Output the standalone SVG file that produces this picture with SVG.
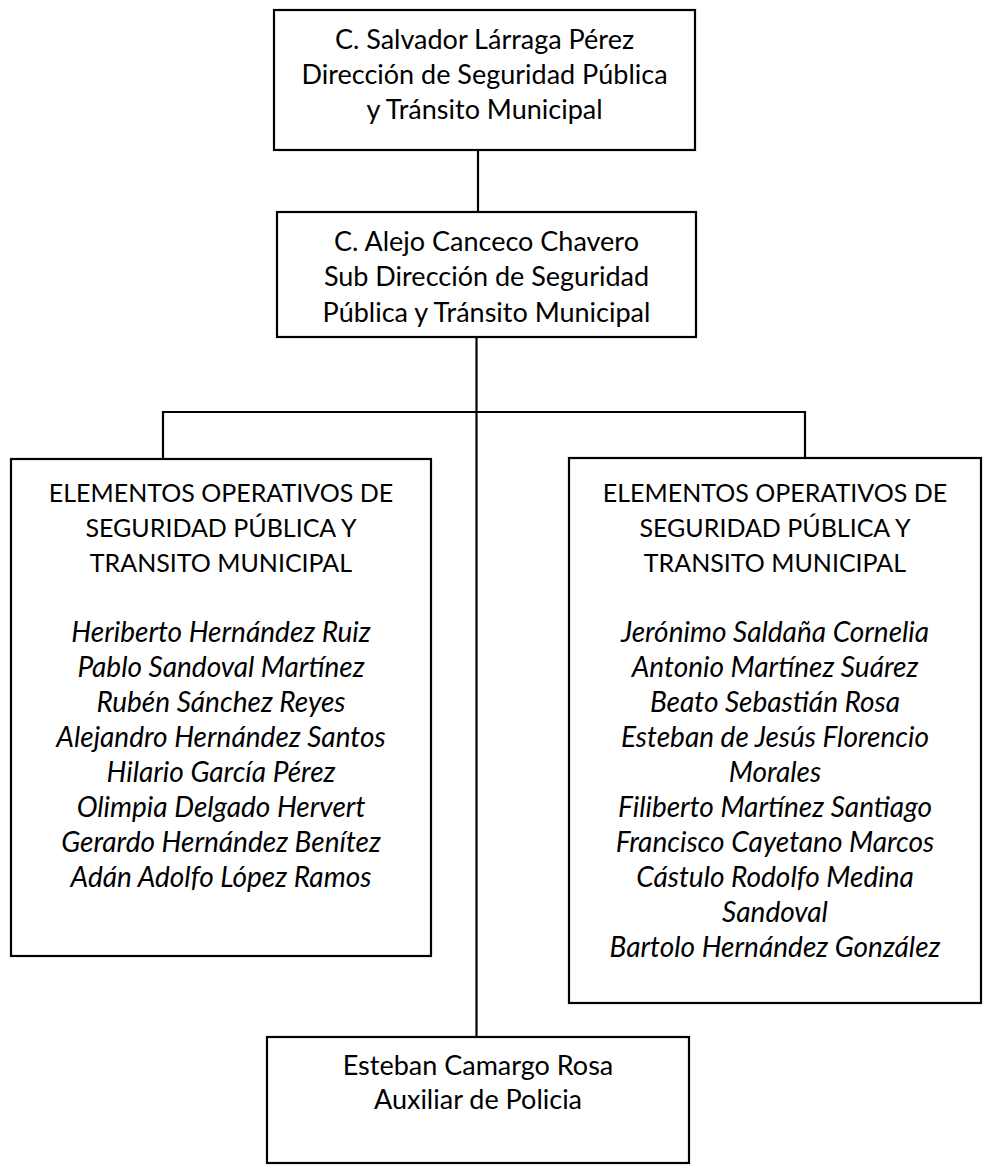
<svg xmlns="http://www.w3.org/2000/svg" width="994" height="1171" viewBox="0 0 994 1171">
<style>
.box{fill:#fff;stroke:#000;stroke-width:2.2}
.ln{stroke:#000;stroke-width:2.2;fill:none}
text{font-family:Lato,"Open Sans","Liberation Sans",sans-serif;font-size:27px;fill:#000;text-anchor:middle}
.hd{font-size:25px}
.it{font-style:italic;font-size:28px}
</style>
<rect width="994" height="1171" fill="#fff"/>
<g id="connectors">
<line class="ln" x1="478" y1="150" x2="478" y2="212"/>
<line class="ln" x1="476.5" y1="337" x2="476.5" y2="1037"/>
<polyline class="ln" points="163,459 163,412 805,412 805,458"/>
</g>
<g id="director">
<rect class="box" x="274" y="10" width="421" height="140"/>
<text x="484.5" y="49">C. Salvador Lárraga Pérez</text>
<text x="484.5" y="84">Dirección de Seguridad Pública</text>
<text x="484.5" y="119">y Tránsito Municipal</text>
</g>
<g id="subdirector">
<rect class="box" x="277" y="212" width="419" height="125"/>
<text x="486.5" y="251">C. Alejo Canceco Chavero</text>
<text x="486.5" y="286">Sub Dirección de Seguridad</text>
<text x="486.5" y="322">Pública y Tránsito Municipal</text>
</g>
<g id="elementos-izq">
<rect class="box" x="11" y="459" width="420" height="497"/>
<text class="hd" x="221" y="502">ELEMENTOS OPERATIVOS DE</text>
<text class="hd" x="221" y="537">SEGURIDAD PÚBLICA Y</text>
<text class="hd" x="221" y="572">TRANSITO MUNICIPAL</text>
<text class="it" x="221" y="642">Heriberto Hernández Ruiz</text>
<text class="it" x="221" y="677">Pablo Sandoval Martínez</text>
<text class="it" x="221" y="712">Rubén Sánchez Reyes</text>
<text class="it" x="221" y="747">Alejandro Hernández Santos</text>
<text class="it" x="221" y="782">Hilario García Pérez</text>
<text class="it" x="221" y="817">Olimpia Delgado Hervert</text>
<text class="it" x="221" y="852">Gerardo Hernández Benítez</text>
<text class="it" x="221" y="887">Adán Adolfo López Ramos</text>
</g>
<g id="elementos-der">
<rect class="box" x="569" y="458" width="412" height="545"/>
<text class="hd" x="775" y="502">ELEMENTOS OPERATIVOS DE</text>
<text class="hd" x="775" y="537">SEGURIDAD PÚBLICA Y</text>
<text class="hd" x="775" y="572">TRANSITO MUNICIPAL</text>
<text class="it" x="775" y="642">Jerónimo Saldaña Cornelia</text>
<text class="it" x="775" y="677">Antonio Martínez Suárez</text>
<text class="it" x="775" y="712">Beato Sebastián Rosa</text>
<text class="it" x="775" y="747">Esteban de Jesús Florencio</text>
<text class="it" x="775" y="782">Morales</text>
<text class="it" x="775" y="817">Filiberto Martínez Santiago</text>
<text class="it" x="775" y="852">Francisco Cayetano Marcos</text>
<text class="it" x="775" y="887">Cástulo Rodolfo Medina</text>
<text class="it" x="775" y="922">Sandoval</text>
<text class="it" x="775" y="957">Bartolo Hernández González</text>
</g>
<g id="auxiliar">
<rect class="box" x="267" y="1037" width="422" height="126"/>
<text x="478" y="1075">Esteban Camargo Rosa</text>
<text x="478" y="1109">Auxiliar de Policia</text>
</g>
</svg>
